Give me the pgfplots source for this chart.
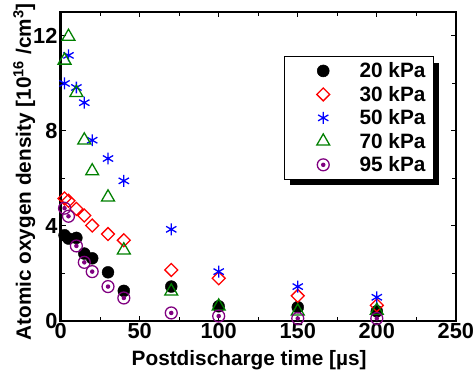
\documentclass[border=0pt]{standalone}
\usepackage{pgfplots}
\pgfplotsset{compat=1.18}
\usepackage{fontspec}
\setmainfont{Liberation Sans}
\usetikzlibrary{shadows}
\definecolor{dgreen}{RGB}{0,128,0}
\definecolor{dpurple}{RGB}{128,0,128}
\pgfdeclareplotmark{odot}{%
  \pgfpathcircle{\pgfpointorigin}{\pgfplotmarksize}\pgfusepathqstroke
  \pgfpathcircle{\pgfpointorigin}{0.38\pgfplotmarksize}\pgfusepathqfill}
\pgfplotsset{legend image code/.code={\path (0bp,0bp) (67bp,0bp);
  \draw[mark repeat=2,mark phase=2,#1] plot coordinates {(0bp,0bp)(33bp,0bp)(66bp,0bp)};}}
\begin{document}
\begin{tikzpicture}
\begin{axis}[
  name=main,
  scale only axis,
  width=398bp, height=311bp,
  xmin=0, xmax=250, ymin=0, ymax=13,
  xtick={0,50,...,250}, ytick={0,4,8,12},
  minor xtick={25,75,...,225}, minor ytick={2,6,10},
  tick align=inside,
  major tick length=5bp, minor tick length=4bp,
  every tick/.style={black, line width=0.8pt},
  axis line style={line width=2.2pt},
  /pgf/number format/assume math mode=true,
  ticklabel style={font=\fontsize{22}{24}\selectfont\bfseries},
  xticklabel style={inner sep=2bp},
  yticklabel style={inner sep=3bp},
  label style={font=\fontsize{21}{24}\selectfont\bfseries},
  xlabel={Postdischarge time [µs]},
  ylabel={Atomic oxygen density [10\textsuperscript{16} /cm\textsuperscript{3}]},
  xlabel style={at={(axis description cs:0.477,-0.129)}, anchor=center},
  ylabel style={at={(axis description cs:-0.092,0.482)}, anchor=center},
  legend style={at={(0.944,0.856)}, anchor=north east, fill=white, draw=black, line width=0.6pt,
    font=\fontsize{21}{24}\selectfont\bfseries, row sep=3bp, inner xsep=6bp, inner ysep=4bp,
    drop shadow={shadow xshift=6bp, shadow yshift=-6bp, fill=black, opacity=1}},
  legend cell align=left,
]
\addplot[only marks, mark=*, mark size=6bp, black] coordinates {
(2.5,3.6)(5,3.46)(10,3.49)(15,2.83)(20,2.63)(30,2.04)(40,1.26)(70,1.44)(100,0.61)(150,0.57)(200,0.4)};
\addlegendentry{20 kPa}
\addplot[only marks, mark=square, mark options={rotate=45}, mark size=4.6bp, red, line width=1.3pt] coordinates {
(2.5,5.15)(5,5.05)(10,4.71)(15,4.43)(20,4.01)(30,3.65)(40,3.39)(70,2.14)(100,1.79)(150,1.05)(200,0.65)};
\addlegendentry{30 kPa}
\addplot[only marks, mark=asterisk, mark size=6bp, blue, line width=1.3pt] coordinates {
(2.5,9.99)(5,11.17)(10,9.82)(15,9.18)(20,7.6)(30,6.83)(40,5.89)(70,3.85)(100,2.07)(150,1.44)(200,0.99)};
\addlegendentry{50 kPa}
\addplot[only marks, mark=triangle, mark size=7.5bp, dgreen, line width=1.3pt] coordinates {
(2.5,10.96)(5,11.96)(10,9.6)(15,7.6)(20,6.3)(30,5.2)(40,2.97)(70,1.24)(100,0.61)(150,0.4)(200,0.43)};
\addlegendentry{70 kPa}
\addplot[only marks, mark=odot, mark size=6bp, dpurple, fill=dpurple, line width=1.3pt] coordinates {
(2.5,4.74)(5,4.4)(10,3.15)(15,2.46)(20,2.07)(30,1.44)(40,0.96)(70,0.33)(100,0.2)(150,0.1)(200,0.1)};
\addlegendentry{95 kPa}
\end{axis}
\path (main.south west) +(-61bp,-51bp) (main.north east) +(17bp,12bp);
\end{tikzpicture}
\end{document}
